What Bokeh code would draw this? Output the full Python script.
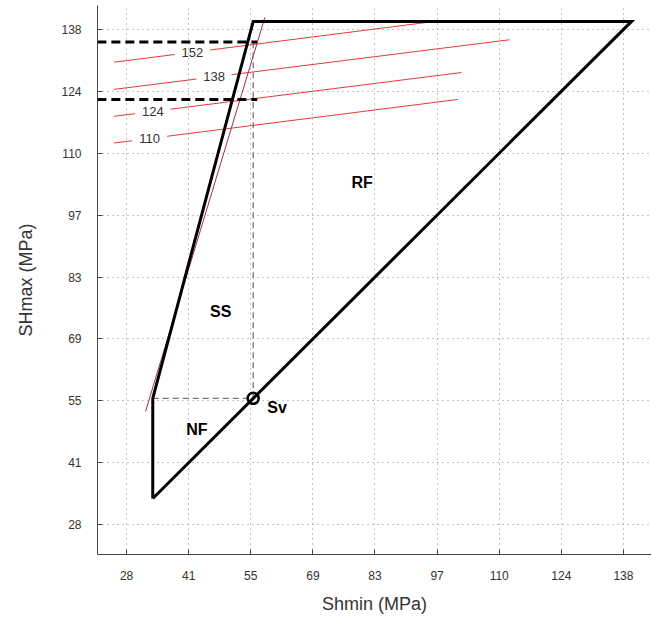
from bokeh.plotting import figure
from bokeh.models import Range1d, FixedTicker
from bokeh.core.properties import value
from bokeh.embed import file_html
from bokeh.resources import INLINE

# ---- data ----
tick_vals = [27.58, 41.37, 55.16, 68.95, 82.74, 96.53, 110.32, 124.11, 137.90]
tick_labels = ["28", "41", "55", "69", "83", "97", "110", "124", "138"]

sv = 55.7            # vertical stress
shmin_low = 33.4     # lowest Shmin
shmax_high = 139.7   # highest SHmax

poly_x = [shmin_low, shmin_low, sv, shmax_high, shmin_low]
poly_y = [shmin_low, sv, shmax_high, shmax_high, shmin_low]

# thin boundary line near SS edge
ss_line_x = [31.8, 58.3]
ss_line_y = [52.8, 140.6]

# estimated SHmax bounds (thick dashed)
bound_levels = [135.1, 122.3]
bound_x0 = 21.1
bound_x1 = 56.6
gray_top = 135.1

# red contours
contour_labels = ["152", "138", "124", "110"]
contour_x0 = [24.8, 24.8, 24.8, 24.8]
contour_y0 = [130.6, 124.55, 118.55, 112.6]
contour_x1 = [94.5, 112.6, 101.9, 101.1]
contour_y1 = [139.5, 135.6, 128.3, 122.3]
contour_label_x = [42.2, 47.0, 33.4, 32.7]

region_labels = ["RF", "SS", "NF", "Sv"]
region_x = [79.9, 48.5, 43.2, 61.0]
region_y = [103.9, 75.0, 48.7, 53.6]

FONT = "Liberation Sans"

p = figure(width=651, height=616, output_backend="svg", toolbar_location=None,
           x_range=Range1d(21.13, 144.13), y_range=Range1d(20.91, 143.24),
           min_border_left=97, min_border_right=0, min_border_top=5, min_border_bottom=61)
p.outline_line_color = None
p.background_fill_color = "white"

for ax in (p.xaxis[0], p.yaxis[0]):
    ax.ticker = FixedTicker(ticks=tick_vals)
    ax.major_label_overrides = {v: l for v, l in zip(tick_vals, tick_labels)}
    ax.minor_tick_line_color = None
    ax.major_tick_in = 5
    ax.major_tick_out = 0
    ax.axis_line_color = "#444444"
    ax.major_tick_line_color = "#444444"
    ax.major_label_text_font = FONT
    ax.major_label_text_font_size = "12px"
    ax.major_label_text_color = "#333333"
    ax.axis_label_text_font = FONT
    ax.axis_label_text_font_size = "18px"
    ax.axis_label_text_font_style = "normal"
    ax.axis_label_text_color = "#333333"

p.xaxis.axis_label = "Shmin (MPa)"
p.yaxis.axis_label = "SHmax (MPa)"
p.xaxis.major_label_standoff = 16
p.xaxis.axis_label_standoff = 11
p.yaxis.major_label_standoff = 16
p.yaxis.axis_label_standoff = 22
p.yaxis.major_label_orientation = "horizontal"

for g in (p.xgrid[0], p.ygrid[0]):
    g.ticker = FixedTicker(ticks=tick_vals)
    g.grid_line_color = "#888888"
    g.grid_line_dash = "1 4"
    g.grid_line_width = 1

# red contour segments broken around labels
gap = 3.9
lx0, ly0, lx1, ly1, tx, ty = [], [], [], [], [], []
for x0, y0, x1, y1, lx in zip(contour_x0, contour_y0, contour_x1, contour_y1, contour_label_x):
    slope = (y1 - y0) / (x1 - x0)
    ga, gb = lx - gap, lx + gap
    lx0 += [x0, gb]
    ly0 += [y0, y0 + slope * (gb - x0)]
    lx1 += [ga, x1]
    ly1 += [y0 + slope * (ga - x0), y1]
    tx.append(lx)
    ty.append(y0 + slope * (lx - x0))
p.segment(x0=lx0, y0=ly0, x1=lx1, y1=ly1, line_color="#e23b3b", line_width=1)
p.text(x=tx, y=ty, text=contour_labels, text_font=value(FONT), text_font_size="13px",
       text_color="#333333", text_align="center", text_baseline="middle")

p.line(ss_line_x, ss_line_y, line_color="#9b2d5a", line_width=1)

# gray dashed helper lines at Sv
p.line([shmin_low, sv], [sv, sv], line_color="#777777", line_width=1.3, line_dash="6 4")
p.line([sv, sv], [sv, gray_top], line_color="#777777", line_width=1.3, line_dash="6 4")

# thick dashed SHmax bounds
for lvl in bound_levels:
    p.line([bound_x0, bound_x1], [lvl, lvl], line_color="black", line_width=3, line_dash="9 5")

# stress polygon
p.line(poly_x, poly_y, line_color="black", line_width=3, line_join="miter")

p.scatter([sv], [sv], marker="circle", size=11, fill_color=None, line_color="black", line_width=2.5)

p.text(x=region_x, y=region_y, text=region_labels, text_font=value(FONT), text_font_size="16px",
       text_font_style="bold", text_color="black", text_align="center", text_baseline="middle")

open("out.html", "w").write(file_html(p, INLINE))
